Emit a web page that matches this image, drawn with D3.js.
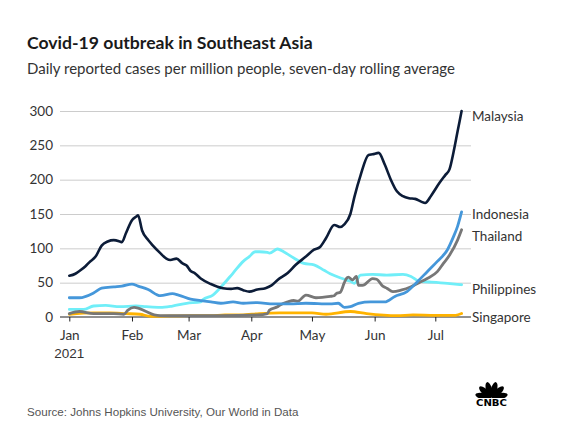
<!DOCTYPE html>
<html>
<head>
<meta charset="utf-8">
<script src="https://cdn.jsdelivr.net/npm/d3@7"></script>
<style>
  html, body { margin: 0; padding: 0; background: #fff; }
  svg { display: block; font-family: "Lato", "Open Sans", sans-serif; }
</style>
</head>
<body>
<svg id="chart" width="565" height="430"></svg>
<script>
// ---- data (days since 2021-01-01, daily cases per million, 7-day avg) ----
const malaysiaDays  = [0,3,5,8,10,13,16,19,22,25,26,28,31,33,34,36,39,41,45,48,50,53,56,58,60,62,65,70,76,80,83,86,89,93,97,100,103,108,112,117,121,124,127,131,134,136,139,141,144,148,150,153,156,159,162,165,168,171,174,176,179,183,186,188,190,192,194];
const malaysiaCases = [60,63,67,74,80,88,104,110,112,110,109,122,141,146,148,126,112,105,93,85,83,85,78,75,67,64,56,48,42,41,42,39,37,40,42,46,54,64,76,88,98,102,115,134,131,135,150,175,206,236,237,239,222,200,183,176,173,172,168,166,177,195,207,215,240,270,300];

const indonesiaDays  = [0,5,12,16,22,26,31,34,39,45,51,54,60,65,70,75,81,86,93,101,109,117,129,133,136,139,143,149,156,161,167,172,177,182,187,190,192,194];
const indonesiaCases = [28,28,35,42,44,45,48,45,40,31,34,32,26,24,22,20,22,20,21,19,19,20,19,20,14,15,20,22,22,30,37,51,66,81,98,117,132,153];

const philippinesDays  = [0,7,12,18,25,33,38,45,51,58,65,66,71,76,81,86,89,92,94,98,99,103,106,111,116,121,126,129,135,139,141,144,150,157,165,169,173,178,187,194];
const philippinesCases = [11,11,16,17,15,16,15,14,16,20,22,25,32,47,64,81,88,95,95,94,93,99,95,86,78,76,68,63,56,52,49,61,62,61,62,59,52,51,49,47];

const thailandDays  = [0,5,12,22,27,29,32,34,38,42,45,60,75,93,98,99,103,104,108,111,113,117,122,129,131,132,134,136,137,138,140,142,143,145,150,152,155,157,160,164,169,173,177,182,185,188,192,194];
const thailandCases = [5,8,5,5,4,10,14,13,8,3,2,2,2,3,5,10,15,17,22,24,23,32,28,30,31,34,36,50,56,58,54,59,46,46,56,55,45,42,37,39,44,50,56,66,78,90,112,127];

const singaporeDays  = [0,12,20,28,35,40,50,60,70,77,85,94,104,120,127,139,147,162,170,181,191,194];
const singaporeCases = [4,6,6,5,4,1,1.5,2,2,3,3,5,6,6,4,8,5,2,3,2.5,2.5,5];

const yTicks = [0, 50, 100, 150, 200, 250, 300];
const monthLabels = ["Jan", "Feb", "Mar", "Apr", "May", "Jun", "Jul"];

const seriesNames  = ["Singapore", "Philippines", "Thailand", "Indonesia", "Malaysia"];
const seriesColors = ["#ffb300", "#70eef8", "#777777", "#4597da", "#0c1c38"];
const seriesDays   = [singaporeDays, philippinesDays, thailandDays, indonesiaDays, malaysiaDays];
const seriesCases  = [singaporeCases, philippinesCases, thailandCases, indonesiaCases, malaysiaCases];
const labelValues  = [0, 41, 118, 150, 293]; // label anchor values

// ---- drawing ----
const svg = d3.select("#chart");
const start = new Date(2021, 0, 1);
const toDate = d => d3.timeDay.offset(start, d);

const x = d3.scaleTime().domain([start, toDate(194)]).range([69.3, 461.6]);
const y = d3.scaleLinear().domain([0, 300]).range([317, 111]);
const gridLeft = 60, gridRight = 471;

// title
svg.append("text").attr("x", 27).attr("y", 49).attr("font-size", 17.6).attr("font-weight", 700)
  .attr("fill", "#1a1a1a").text("Covid-19 outbreak in Southeast Asia");
svg.append("text").attr("x", 27).attr("y", 73.5).attr("font-size", 15).attr("fill", "#333")
  .text("Daily reported cases per million people, seven-day rolling average");

// gridlines + y labels
const yAxis = svg.append("g").attr("transform", `translate(${gridLeft},0)`)
  .call(d3.axisLeft(y).tickValues(yTicks).tickSize(-(gridRight - gridLeft)).tickPadding(7));
yAxis.select(".domain").remove();
yAxis.selectAll(".tick line").attr("stroke", "#cccccc").attr("stroke-width", 1);
yAxis.selectAll(".tick").filter(d => d === 0).select("line").remove();
yAxis.selectAll(".tick text").attr("font-size", 13.5).attr("fill", "#333")
  .attr("font-family", "Lato, 'Open Sans', sans-serif");

// x axis
const monthDates = monthLabels.map((m, i) => new Date(2021, i, 1));
const xAxis = svg.append("g").attr("transform", `translate(0,${y(0)})`)
  .call(d3.axisBottom(x).tickValues(monthDates).tickSize(4.5).tickPadding(9)
    .tickFormat((d, i) => monthLabels[i]));
xAxis.select(".domain").remove();
xAxis.append("line").attr("x1", gridLeft).attr("x2", gridRight).attr("y1", 0).attr("y2", 0)
  .attr("stroke", "#222").attr("stroke-width", 1);
xAxis.selectAll(".tick line").attr("stroke", "#222");
xAxis.selectAll(".tick text").attr("font-size", 13.5).attr("fill", "#333")
  .attr("font-family", "Lato, 'Open Sans', sans-serif");
xAxis.append("text").attr("x", x(monthDates[0])).attr("y", 41).attr("text-anchor", "middle")
  .attr("font-size", 13.5).attr("fill", "#333").text("2021");

// lines
const line = d3.line().x(d => x(toDate(d[0]))).y(d => y(d[1])).curve(d3.curveMonotoneX);
seriesNames.forEach((name, i) => {
  const pts = seriesDays[i].map((d, j) => [d, seriesCases[i][j]]);
  svg.append("path").datum(pts).attr("d", line).attr("fill", "none")
    .attr("stroke", seriesColors[i]).attr("stroke-width", name === "Malaysia" ? 2.6 : 2.8)
    .attr("stroke-linejoin", "round").attr("stroke-linecap", "round");
  svg.append("text").attr("x", 472).attr("y", y(labelValues[i])).attr("dy", "0.35em")
    .attr("font-size", 13.5).attr("fill", "#333").text(name);
});

// source
svg.append("text").attr("x", 27).attr("y", 416).attr("font-size", 11.6).attr("fill", "#555")
  .attr("font-family", "'Liberation Sans', Arial, sans-serif")
  .text("Source: Johns Hopkins University, Our World in Data");

// CNBC logo
const logo = svg.append("g").attr("transform", "translate(491.5,398)");
const angles = [-78, -47, -16, 16, 47, 78];
angles.forEach(a => {
  logo.append("ellipse").attr("cx", 0).attr("cy", -8.5).attr("rx", 3.1).attr("ry", 8)
    .attr("transform", `rotate(${a})`).attr("fill", "#000");
});
logo.append("rect").attr("x", -17).attr("y", 0).attr("width", 34).attr("height", 10).attr("fill", "#fff");
logo.append("text").attr("x", -15.5).attr("y", 8.3)
  .attr("font-size", 9).attr("font-weight", 900).attr("font-family", "'DejaVu Sans', sans-serif")
  .attr("fill", "#000").attr("textLength", 31).attr("lengthAdjust", "spacingAndGlyphs").text("CNBC");
</script>
</body>
</html>
